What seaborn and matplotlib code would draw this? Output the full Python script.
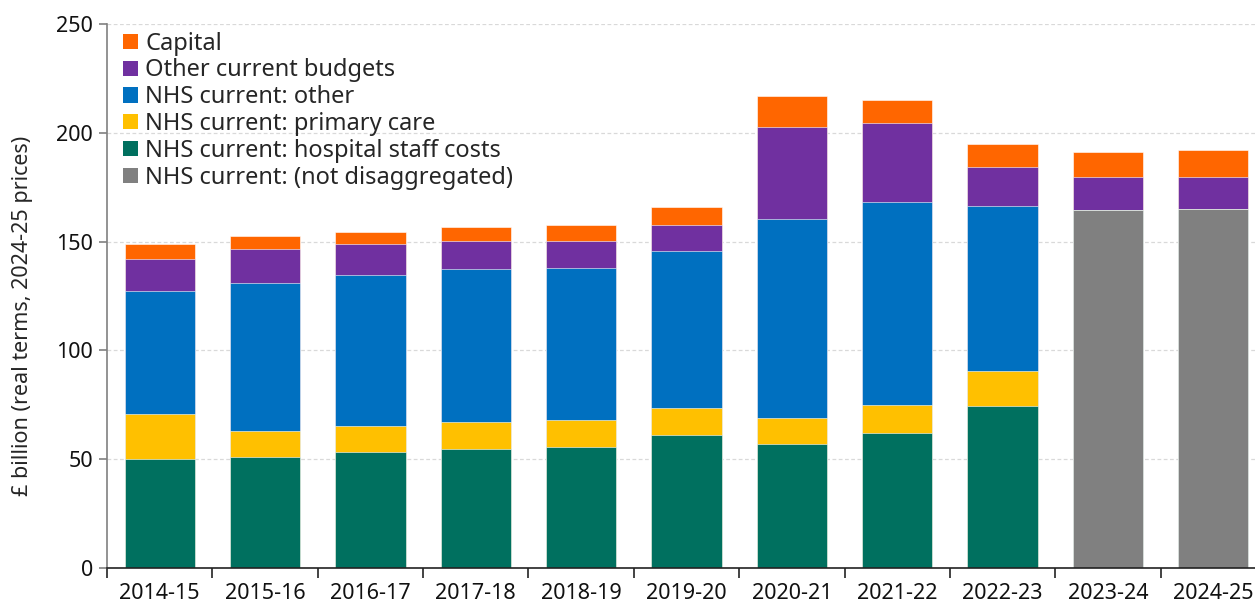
import numpy as np
import pandas as pd
import matplotlib
matplotlib.use("Agg")
import matplotlib.pyplot as plt
import seaborn as sns
from matplotlib.patches import Patch

years = ["2014-15", "2015-16", "2016-17", "2017-18", "2018-19", "2019-20",
         "2020-21", "2021-22", "2022-23", "2023-24", "2024-25"]
not_disaggregated = [0, 0, 0, 0, 0, 0, 0, 0, 0, 164.5, 165.0]
hospital_staff = [50.1, 51.0, 53.3, 54.7, 55.6, 61.1, 57.0, 62.0, 74.4, 0, 0]
primary_care = [20.7, 12.0, 12.0, 12.4, 12.4, 12.4, 11.9, 12.9, 16.1, 0, 0]
nhs_other = [56.5, 68.0, 69.3, 70.3, 69.9, 72.2, 91.5, 93.3, 75.9, 0, 0]
other_budgets = [14.7, 15.6, 14.3, 12.9, 12.4, 11.9, 42.3, 36.3, 17.9, 15.2, 14.7]
capital = [6.9, 6.0, 5.5, 6.4, 7.3, 8.3, 14.2, 10.6, 10.6, 11.5, 12.4]

series = [
    ("NHS current: (not disaggregated)", not_disaggregated, "#808080"),
    ("NHS current: hospital staff costs", hospital_staff, "#00705F"),
    ("NHS current: primary care", primary_care, "#FFC000"),
    ("NHS current: other", nhs_other, "#0070C0"),
    ("Other current budgets", other_budgets, "#7030A0"),
    ("Capital", capital, "#FF6600"),
]

sns.set_theme(style="white")
plt.rcParams["font.family"] = ["Noto Sans", "DejaVu Sans"]

fig = plt.figure(figsize=(12.55, 6.05), dpi=100)
ax = fig.add_axes([107 / 1255, 37 / 605, 1159 / 1255, 544 / 605])

cum = np.zeros(len(years))
cums = []
for name, vals, col in series:
    cum = cum + np.array(vals, dtype=float)
    cums.append((name, cum.copy(), col))

for name, c, col in reversed(cums):
    df = pd.DataFrame({"year": years, "value": c})
    sns.barplot(data=df, x="year", y="value", color=col, width=0.667,
                edgecolor="white", linewidth=0.4, saturation=1, ax=ax, zorder=2)

ax.set_xlim(-0.5, len(years) - 0.5)
ax.set_ylim(0, 250)
ax.set_yticks([0, 50, 100, 150, 200, 250])
ax.yaxis.grid(True, linestyle=(0, (3, 2)), color="#d9d9d9", linewidth=0.9, zorder=0)
ax.set_axisbelow(True)
ax.set_xlabel("")
ax.set_ylabel("£ billion (real terms, 2024-25 prices)", fontsize=15.5)
ax.yaxis.label.set_verticalalignment("center")
ax.yaxis.set_label_coords(-0.073, 0.463)

for s in ["top", "right"]:
    ax.spines[s].set_visible(False)
ax.spines["left"].set_color("#808080")
ax.spines["left"].set_linewidth(1.2)
ax.spines["bottom"].set_color("#222222")
ax.spines["bottom"].set_linewidth(1.2)

ax.tick_params(axis="y", which="major", left=True, length=6, width=1.2,
               color="#808080", labelsize=15.5, pad=4, labelcolor="#111111")
ax.tick_params(axis="x", which="major", bottom=False, labelsize=15.5, pad=5,
               labelcolor="#111111")
ax.set_xticks(np.arange(-0.5, len(years), 1.0), minor=True)
ax.tick_params(axis="x", which="minor", bottom=True, length=7, width=1.2,
               color="#222222")

handles = [Patch(facecolor=col, edgecolor="none", label=name)
           for name, _, col in reversed(series)]
leg = ax.legend(handles=handles, loc="upper left", bbox_to_anchor=(0.002, 1.012),
                frameon=False, fontsize=17, handlelength=0.62, handleheight=0.62,
                handletextpad=0.3, labelspacing=0.12, borderaxespad=0.2)

fig.savefig("out.png", dpi=100)
